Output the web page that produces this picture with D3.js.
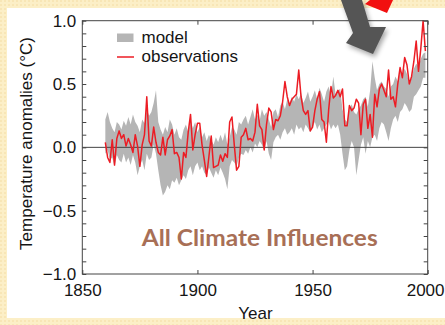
<!DOCTYPE html>
<html>
<head>
<meta charset="utf-8">
<script src="https://cdn.jsdelivr.net/npm/d3@7"></script>
<style>
  html, body { margin: 0; padding: 0; background: #fcefc7; }
  svg { display: block; font-family: "Liberation Sans", Arial, Helvetica, sans-serif; }
</style>
</head>
<body>
<div id="chart"></div>
<script>
// annual values, 1860-1999
const startYear = 1860;
const observations = [
  0.04, -0.08, -0.12, 0.06, -0.14, 0.07, 0.13, 0.07, 0.10, 0.01,
  0.07, 0.02, -0.04, 0.10, 0.01, -0.15, 0.02, 0.10, 0.40, 0.05,
  0.01, 0.16, 0.04, -0.04, -0.06, 0.08, -0.06, 0.06, 0.09, 0.14,
  -0.05, -0.04, -0.08, -0.25, -0.04, -0.08, 0.12, 0.26, -0.02, 0.10,
  0.19, 0.19, 0.02, -0.10, -0.23, -0.07, 0.09, -0.16, -0.15, -0.14,
  -0.06, -0.11, -0.05, -0.08, 0.20, 0.24, 0.02, -0.18, -0.15, 0.08,
  0.10, 0.15, 0.06, 0.07, 0.05, 0.12, 0.34, 0.17, 0.14, -0.02,
  0.18, 0.31, 0.28, 0.14, 0.22, 0.21, 0.25, 0.36, 0.52, 0.40,
  0.33, 0.38, 0.40, 0.42, 0.61, 0.40, 0.29, 0.26, 0.29, 0.13,
  0.16, 0.29, 0.38, 0.44, 0.22, 0.20, 0.04, 0.30, 0.48, 0.39,
  0.41, 0.45, 0.40, 0.46, 0.17, 0.17, 0.33, 0.29, 0.31, 0.38,
  0.35, 0.10, 0.34, 0.38, 0.15, 0.26, 0.08, 0.42, 0.32, 0.46,
  0.50, 0.45, 0.40, 0.61, 0.38, 0.40, 0.32, 0.50, 0.63, 0.55,
  0.71, 0.65, 0.50, 0.56, 0.68, 0.84, 0.60, 0.78, 1.00, 0.76
];
const modelHigh = [
  0.22, 0.28, 0.20, 0.15, 0.12, 0.20, 0.18, 0.14, 0.21, 0.17,
  0.24, 0.18, 0.26, 0.20, 0.17, 0.12, 0.22, 0.19, 0.30, 0.25,
  0.28, 0.35, 0.45, 0.20, 0.14, 0.10, 0.16, 0.12, 0.22, 0.18,
  0.10, 0.15, 0.08, 0.06, 0.14, 0.18, 0.12, 0.22, 0.15, 0.20,
  0.12, 0.16, 0.08, 0.12, 0.05, 0.10, 0.06, 0.02, 0.08, 0.04,
  0.10, 0.05, 0.12, 0.02, 0.08, 0.16, 0.14, 0.10, 0.20, 0.18,
  0.22, 0.25, 0.18, 0.24, 0.30, 0.22, 0.26, 0.21, 0.30, 0.25,
  0.28, 0.22, 0.16, 0.28, 0.30, 0.24, 0.33, 0.36, 0.30, 0.38,
  0.34, 0.40, 0.36, 0.42, 0.38, 0.43, 0.35, 0.39, 0.44, 0.36,
  0.40, 0.45, 0.38, 0.47, 0.42, 0.36, 0.44, 0.48, 0.40, 0.56,
  0.42, 0.45, 0.46, 0.30, 0.22, 0.20, 0.30, 0.34, 0.28, 0.26,
  0.30, 0.33, 0.38, 0.40, 0.32, 0.45, 0.68, 0.55, 0.45, 0.50,
  0.52, 0.48, 0.46, 0.40, 0.48, 0.50, 0.56, 0.52, 0.60, 0.58,
  0.62, 0.58, 0.50, 0.55, 0.62, 0.66, 0.64, 0.70, 0.74, 0.75
];
const modelLow = [
  -0.05, -0.02, -0.10, -0.08, -0.15, -0.06, -0.10, -0.12, -0.05, -0.12,
  -0.08, -0.14, -0.06, -0.12, -0.22, -0.15, -0.10, -0.18, -0.05, -0.10,
  -0.08, 0.02, -0.05, -0.18, -0.30, -0.38, -0.35, -0.30, -0.33, -0.26,
  -0.28, -0.24, -0.30, -0.26, -0.22, -0.25, -0.18, -0.15, -0.22, -0.15,
  -0.12, -0.18, -0.15, -0.20, -0.22, -0.16, -0.20, -0.24, -0.18, -0.22,
  -0.16, -0.20, -0.25, -0.33, -0.15, -0.10, -0.12, -0.15, -0.08, -0.05,
  -0.06, -0.02, -0.05, 0.00, -0.04, 0.03, 0.00, 0.05, 0.02, -0.02,
  0.05, -0.05, -0.10, 0.04, 0.08, 0.10, 0.06, 0.12, 0.15, 0.10,
  0.12, 0.15, 0.10, 0.18, 0.14, 0.16, 0.12, 0.18, 0.15, 0.12,
  0.16, 0.20, 0.14, 0.18, 0.12, 0.15, 0.18, 0.20, 0.14, 0.18,
  0.15, 0.18, 0.10, -0.05, -0.18, -0.15, -0.02, 0.05, 0.00, -0.22,
  -0.10, 0.02, 0.08, -0.05, 0.05, 0.00, 0.08, 0.10, 0.05, 0.15,
  0.20, 0.18, 0.12, 0.05, 0.15, 0.22, 0.25, 0.20, 0.28, 0.30,
  0.35, 0.32, 0.28, 0.30, 0.40, 0.42, 0.45, 0.48, 0.55, 0.55
];
const xTicks = [1850, 1900, 1950, 2000];
const yTicks = [-1.0, -0.5, 0.0, 0.5, 1.0];
const legendLabels = ["model", "observations"];
const panelTitle = "All Climate Influences";

const width = 445;
const height = 325;
const plot = {left: 82.3, right: 427.7, top: 20.7, bottom: 274};

const svg = d3.select("#chart").append("svg")
    .attr("width", width)
    .attr("height", height);

// dotted beige backdrop and white slide panel
const defs = svg.append("defs");
const pat = defs.append("pattern")
    .attr("id", "dots")
    .attr("width", 4).attr("height", 4)
    .attr("patternUnits", "userSpaceOnUse");
pat.append("rect").attr("width", 4).attr("height", 4).attr("fill", "#fcefc7");
pat.append("circle").attr("cx", 1).attr("cy", 1).attr("r", 0.8).attr("fill", "#f3dca0");

svg.append("rect").attr("width", width).attr("height", height).attr("fill", "url(#dots)");
svg.append("rect")
    .attr("x", 7).attr("y", 8)
    .attr("width", width - 7).attr("height", 310)
    .attr("fill", "#ffffff");

const x = d3.scaleLinear().domain([1850, 2000]).range([plot.left, plot.right]);
const y = d3.scaleLinear().domain([-1, 1]).range([plot.bottom, plot.top]);

const years = observations.map((d, i) => startYear + i);
const band = years.map((yr, i) => ({year: yr, lo: modelLow[i], hi: modelHigh[i]}));

// model range
svg.append("path")
    .datum(band)
    .attr("fill", "#b5b5b5")
    .attr("d", d3.area()
        .x(d => x(d.year))
        .y0(d => y(d.lo))
        .y1(d => y(d.hi)));

// zero line
svg.append("line")
    .attr("x1", plot.left).attr("x2", plot.right)
    .attr("y1", y(0)).attr("y2", y(0))
    .attr("stroke", "#444").attr("stroke-width", 1);

// observations
svg.append("path")
    .datum(years.map((yr, i) => [yr, observations[i]]))
    .attr("fill", "none")
    .attr("stroke", "#ec1c24")
    .attr("stroke-width", 1.5)
    .attr("stroke-linejoin", "round")
    .attr("d", d3.line().x(d => x(d[0])).y(d => y(d[1])));

// axes with inward ticks
const fmt = d => d3.format(".1f")(d).replace("-", "\u2212");
const minor = d3.range(-10, 11).map(v => v / 10);
const isMajor = v => yTicks.some(t => Math.abs(t - v) < 1e-9);

svg.append("g")
    .attr("transform", `translate(${plot.left},0)`)
    .call(d3.axisLeft(y).tickValues(minor).tickSize(-4).tickPadding(6)
        .tickFormat(v => isMajor(v) ? fmt(v) : ""));
svg.append("g")
    .attr("transform", `translate(${plot.right},0)`)
    .call(d3.axisRight(y).tickValues(minor).tickSize(-4).tickFormat(""));
const bottom = svg.append("g")
    .attr("transform", `translate(0,${plot.bottom})`)
    .call(d3.axisBottom(x).tickValues(xTicks).tickSize(-4).tickPadding(10).tickFormat(d3.format("d")));
svg.append("g")
    .attr("transform", `translate(0,${plot.top})`)
    .call(d3.axisTop(x).tickValues(xTicks).tickSize(-4).tickFormat(""));

svg.selectAll(".domain").remove();
svg.selectAll(".tick line").attr("stroke", "#444");
svg.selectAll(".tick text")
    .attr("font-size", 17)
    .attr("font-family", "Liberation Sans, Arial, sans-serif")
    .attr("fill", "#151515");
// last year label sits flush with the slide edge
bottom.selectAll(".tick text")
    .filter(d => d === 2000)
    .attr("text-anchor", "end")
    .attr("x", 444 - plot.right);

svg.append("rect")
    .attr("x", plot.left).attr("y", plot.top)
    .attr("width", plot.right - plot.left).attr("height", plot.bottom - plot.top)
    .attr("fill", "none").attr("stroke", "#444").attr("stroke-width", 1);

// axis titles
svg.append("text")
    .attr("x", (plot.left + plot.right) / 2 + 0.5).attr("y", 319)
    .attr("text-anchor", "middle")
    .attr("font-size", 17).attr("fill", "#151515")
    .text("Year");
svg.append("text")
    .attr("transform", "translate(32,143.5) rotate(-90)")
    .attr("text-anchor", "middle")
    .attr("font-size", 17).attr("fill", "#151515")
    .text("Temperature anomalies (\u00B0C)");

// legend
const legend = svg.append("g");
legend.append("rect")
    .attr("x", 117).attr("y", 33.5).attr("width", 16.5).attr("height", 8.5)
    .attr("fill", "#b5b5b5");
legend.append("line")
    .attr("x1", 117).attr("x2", 134).attr("y1", 57).attr("y2", 57)
    .attr("stroke", "#ec1c24").attr("stroke-width", 1.5);
legend.selectAll("text.lab")
    .data(legendLabels)
    .join("text")
    .attr("class", "lab")
    .attr("x", 141.5)
    .attr("y", (d, i) => 42.5 + i * 19.5)
    .attr("font-size", 17).attr("fill", "#151515")
    .text(d => d);

// panel caption
svg.append("text")
    .attr("x", 141.7).attr("y", 246)
    .attr("font-family", "Lato, 'Open Sans', sans-serif")
    .attr("font-weight", "bold")
    .attr("font-size", 23)
    .attr("textLength", 236).attr("lengthAdjust", "spacingAndGlyphs")
    .attr("fill", "#a86f56")
    .text(panelTitle);

// slide decoration: arrow pointing into the plot, red shape at the top edge
const shadow = defs.append("filter").attr("id", "blur").attr("x", -0.5).attr("y", -0.5)
    .attr("width", 2).attr("height", 2);
shadow.append("feGaussianBlur").attr("stdDeviation", 2.5);
const arrow = "M341,0 L362,0 L370,27 L386,27 L373,54 L346,43 L353,33 Z";
svg.append("path").attr("d", arrow).attr("transform", "translate(2,3)")
    .attr("fill", "#000").attr("opacity", 0.35).attr("filter", "url(#blur)");
svg.append("path").attr("d", arrow).attr("fill", "#555555");
svg.append("path").attr("d", "M365,4 L370,0 L393,0 L387,13 Z").attr("fill", "#f21010");
</script>
</body>
</html>
